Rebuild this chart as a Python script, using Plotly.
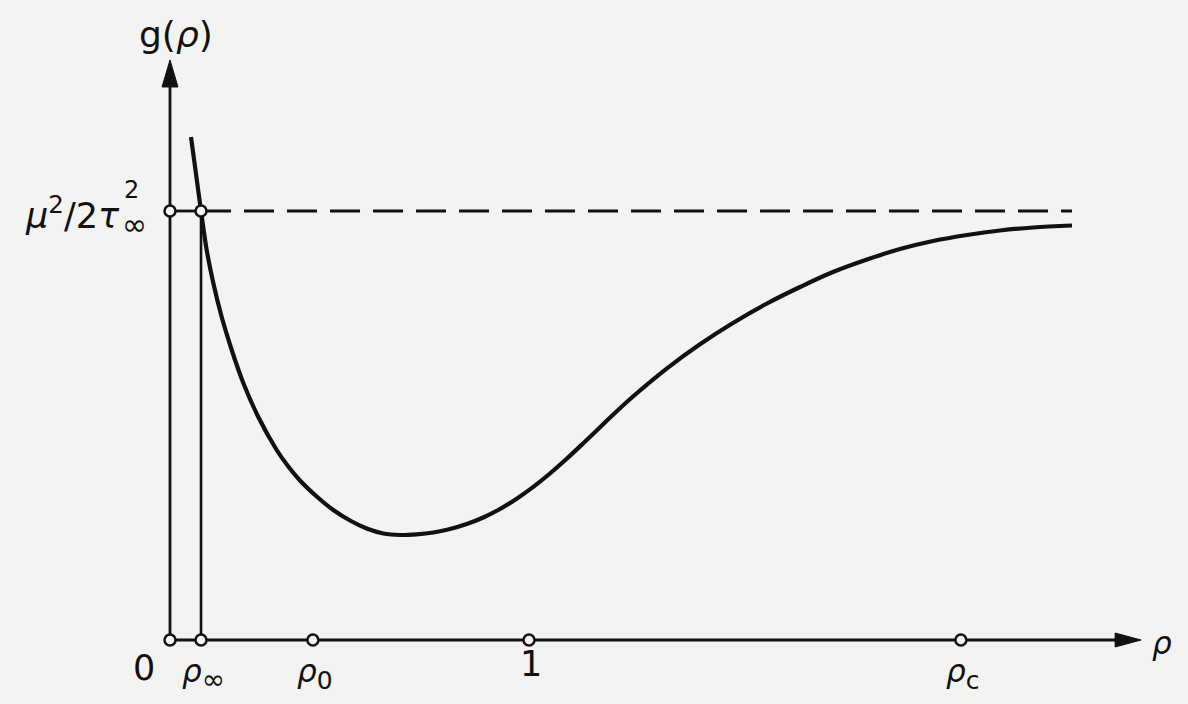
import plotly.graph_objects as go

# ---------------- data ----------------
rho = [0.0585, 0.0864, 0.1022, 0.1206, 0.1440, 0.1719, 0.2042, 0.2460, 0.2972, 0.3295,
       0.3621, 0.4086, 0.4549, 0.5014, 0.5479, 0.5942, 0.6407, 0.6872, 0.7334, 0.7799,
       0.8265, 0.8727, 0.9192, 0.9657, 1.0120, 1.0585, 1.1050, 1.1513, 1.1978, 1.2437,
       1.2897, 1.3844, 1.4763, 1.5682, 1.6630, 1.7549, 1.8468, 1.9415, 2.0334, 2.1253,
       2.2201, 2.3120, 2.4039, 2.5125]
g_rho = [1.1725, 1.0000, 0.9091, 0.8322, 0.7529, 0.6760, 0.5991, 0.5198, 0.4429, 0.4044,
         0.3718, 0.3345, 0.3030, 0.2786, 0.2599, 0.2483, 0.2448, 0.2464, 0.2506, 0.2587,
         0.2704, 0.2855, 0.3054, 0.3295, 0.3570, 0.3881, 0.4224, 0.4587, 0.4960, 0.5326,
         0.5676, 0.6333, 0.6895, 0.7389, 0.7844, 0.8228, 0.8578, 0.8869, 0.9114, 0.9301,
         0.9441, 0.9545, 0.9615, 0.9662]
g_inf = 1.0                       # level mu^2 / 2 tau_inf^2
rho_inf = 0.0864
tick_pos = [0.0, 0.0864, 0.398, 1.0, 2.203]
tick_labels = ["0",
               "<i>ρ</i><sub><span style='font-size:28px'>∞</span></sub>",
               "<i>ρ</i><sub><span style='font-size:25px'>0</span></sub>",
               "1",
               "<i>ρ</i><sub><span style='font-size:25px'>c</span></sub>"]
x_axis_end = 2.705
y_axis_end = 1.352

# ---------------- layout geometry ----------------
W, H = 1188, 704
X0PX, XUNIT = 170, 359      # pixel of rho=0, pixels per unit rho
Y0PX, YUNIT = 640, 429      # pixel of g=0, pixels per unit g
BG = "#f3f3f1"
INK = "#111111"
FONT = "DejaVu Sans"

xr = [(0 - X0PX) / XUNIT, (W - X0PX) / XUNIT]
yr = [(Y0PX - H) / YUNIT, Y0PX / YUNIT]

fig = go.Figure()

# axes (lines)
arr_len_y, arr_half_y = 27 / YUNIT, 8 / XUNIT
arr_len_x, arr_half_x = 26 / XUNIT, 7 / YUNIT
fig.add_trace(go.Scatter(x=[0, 0], y=[0, y_axis_end - arr_len_y * 0.5], mode="lines",
                         line=dict(color=INK, width=2.8), hoverinfo="skip"))
fig.add_trace(go.Scatter(x=[0, x_axis_end - arr_len_x * 0.5], y=[0, 0], mode="lines",
                         line=dict(color=INK, width=2.8), hoverinfo="skip"))
# arrow heads
fig.add_trace(go.Scatter(x=[-arr_half_y, arr_half_y, 0, -arr_half_y],
                         y=[y_axis_end - arr_len_y, y_axis_end - arr_len_y, y_axis_end, y_axis_end - arr_len_y],
                         mode="lines", fill="toself", fillcolor=INK,
                         line=dict(color=INK, width=1), hoverinfo="skip"))
fig.add_trace(go.Scatter(x=[x_axis_end - arr_len_x, x_axis_end - arr_len_x, x_axis_end, x_axis_end - arr_len_x],
                         y=[-arr_half_x, arr_half_x, 0, -arr_half_x],
                         mode="lines", fill="toself", fillcolor=INK,
                         line=dict(color=INK, width=1), hoverinfo="skip"))

# vertical line at rho_inf
fig.add_trace(go.Scatter(x=[rho_inf, rho_inf], y=[0, g_inf], mode="lines",
                         line=dict(color=INK, width=2.6), hoverinfo="skip"))
# asymptote: solid between the two markers, dashed beyond
fig.add_trace(go.Scatter(x=[0, rho_inf], y=[g_inf, g_inf], mode="lines",
                         line=dict(color=INK, width=2.8), hoverinfo="skip"))
fig.add_trace(go.Scatter(x=[rho_inf, rho[-1]], y=[g_inf, g_inf], mode="lines",
                         line=dict(color=INK, width=3.2, dash="30px,13px"), hoverinfo="skip"))

# the curve g(rho)
fig.add_trace(go.Scatter(x=rho, y=g_rho, mode="lines",
                         line=dict(color=INK, width=4.2, shape="spline", smoothing=1.0),
                         hoverinfo="skip"))

# open-circle markers
mx = tick_pos + [0.0, rho_inf]
my = [0.0] * len(tick_pos) + [g_inf, g_inf]
fig.add_trace(go.Scatter(x=mx, y=my, mode="markers",
                         marker=dict(symbol="circle", size=11, color=BG,
                                     line=dict(color=INK, width=2.5)),
                         hoverinfo="skip"))

ann = []
# x tick labels (label 0 sits left of the origin)
label_x_px = {0: 144}
label_y_px = [668, 674, 674, 664, 674]
label_size = [35, 31, 31, 35, 31]
for i, (p, t) in enumerate(zip(tick_pos, tick_labels)):
    if i in label_x_px:
        ann.append(dict(x=label_x_px[i] / W, xref="paper", y=1 - label_y_px[i] / H, yref="paper",
                        text=t, showarrow=False, xanchor="center", yanchor="middle",
                        font=dict(family=FONT, size=label_size[i], color=INK)))
    else:
        ann.append(dict(x=p, xref="x", y=1 - label_y_px[i] / H, yref="paper", xshift=2,
                        text=t, showarrow=False, xanchor="center", yanchor="middle",
                        font=dict(family=FONT, size=label_size[i], color=INK)))
# rho axis label
ann.append(dict(x=1162 / W, xref="paper", y=1 - 643 / H, yref="paper",
                text="<i>ρ</i>", showarrow=False, xanchor="center", yanchor="middle",
                font=dict(family=FONT, size=31, color=INK)))
# g(rho) axis label
ann.append(dict(x=176 / W, xref="paper", y=1 - 34 / H, yref="paper",
                text="g(<i>ρ</i>)", showarrow=False, xanchor="center", yanchor="middle",
                font=dict(family=FONT, size=36, color=INK)))
# mu^2 / 2 tau_inf^2 label (stacked sub/superscript on tau)
ann.append(dict(x=122 / W, xref="paper", y=g_inf, yref="y", yshift=-2,
                text="<i>μ</i><sup>2</sup>/2<i>τ</i>", showarrow=False,
                xanchor="right", yanchor="middle",
                font=dict(family=FONT, size=35, color=INK)))
ann.append(dict(x=122 / W, xref="paper", y=g_inf, yref="y", yshift=21,
                text="2", showarrow=False, xanchor="left", yanchor="middle",
                font=dict(family=FONT, size=24, color=INK)))
ann.append(dict(x=120 / W, xref="paper", y=g_inf, yref="y", yshift=-13,
                text="∞", showarrow=False, xanchor="left", yanchor="middle",
                font=dict(family=FONT, size=30, color=INK)))

fig.update_layout(
    width=W, height=H, autosize=False,
    margin=dict(l=0, r=0, t=0, b=0),
    paper_bgcolor=BG, plot_bgcolor=BG,
    showlegend=False,
    xaxis=dict(range=xr, visible=False, fixedrange=True),
    yaxis=dict(range=yr, visible=False, fixedrange=True),
    annotations=ann,
)

fig.write_html(
    "out.html",
    config={"displayModeBar": False},
    post_script="document.body.style.margin='0';document.body.style.padding='0';"
                "document.body.style.overflow='hidden';"
                "document.body.style.background='" + BG + "';",
)
